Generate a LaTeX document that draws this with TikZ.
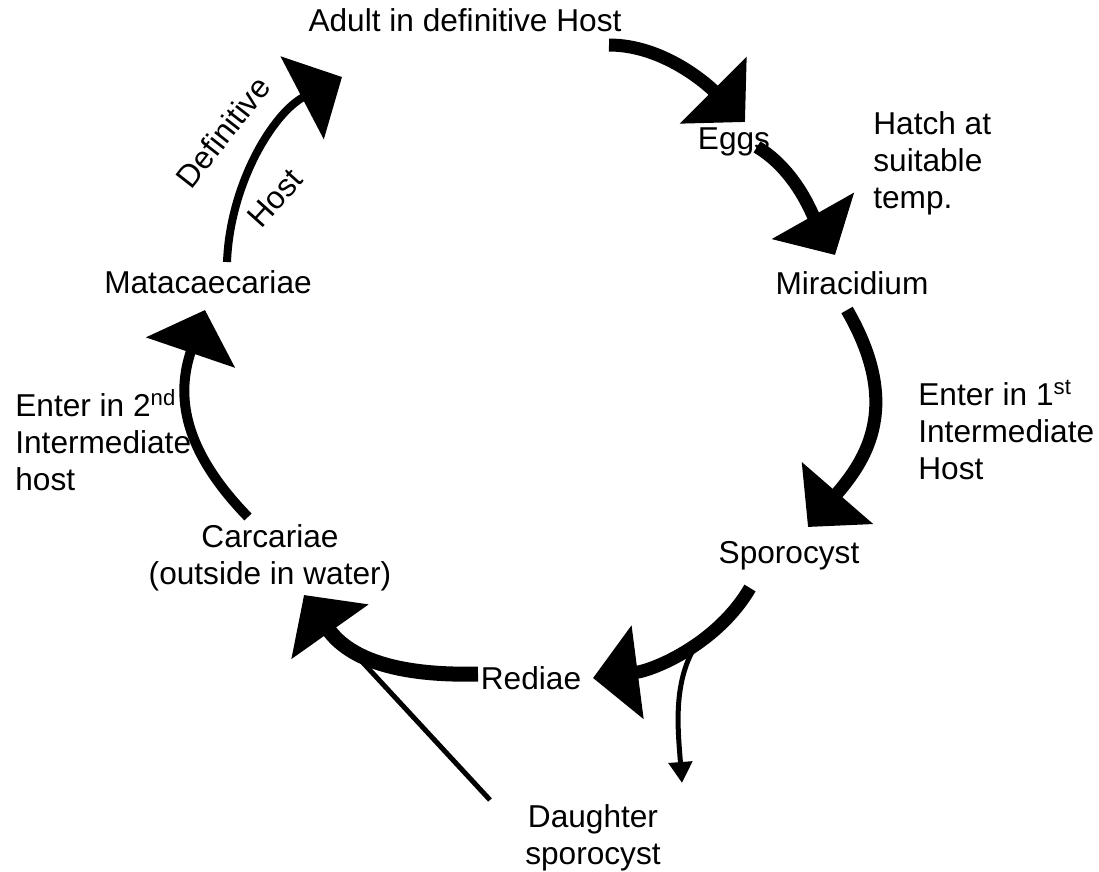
\documentclass[tikz,border=0pt]{standalone}
\usepackage{fontspec}
\setmainfont{Liberation Sans}
\usetikzlibrary{arrows.meta}
\tikzset{
  lbl/.style={inner sep=0pt,font=\fontsize{18}{21}\selectfont},
  cyc/.style={line width=#1,-{Triangle[length=0.9cm,width=1.84cm]}},
  branch/.style={line width=0.1cm,-{Triangle[length=0.42cm,width=0.46cm]}}
}

\begin{document}
\begin{tikzpicture}[x=0.02cm,y=-0.02cm]
  \useasboundingbox (0,0) rectangle (1099,872);

  \node[lbl] (adult) at (465,20) {Adult in definitive Host};
  \node[lbl] (eggs) at (734,142) {Eggs};
  \node[lbl,anchor=west,align=left] (hatch) at (873,163) {Hatch at\\suitable\\temp.};
  \node[lbl] (mira) at (852,283) {Miracidium};
  \node[lbl,anchor=west,align=left] (enterA) at (918,430) {Enter in 1\textsuperscript{st}\\Intermediate\\Host};
  \node[lbl] (sporo) at (789,556) {Sporocyst};
  \node[lbl] (rediae) at (531,678) {Rediae};
  \node[lbl,align=center] (daughter) at (593,838) {Daughter\\sporocyst};
  \node[lbl,align=center] (carc) at (270,558) {Carcariae\\(outside in water)};
  \node[lbl,anchor=west,align=left] (enterB) at (15,440) {Enter in 2\textsuperscript{nd}\\Intermediate\\host};
  \node[lbl] (mata) at (208,282) {Matacaecariae};
  \node[lbl,rotate=52] (defn) at (223,132) {Definitive};
  \node[lbl,rotate=48] (dhost) at (275,198) {Host};

  \coordinate (adultOut) at (609,45);   \coordinate (eggsIn) at (745,122);
  \coordinate (eggsOut) at (757,147);   \coordinate (miraIn) at (835,255);
  \coordinate (miraOut) at (847,310);   \coordinate (sporoIn) at (808,527);
  \coordinate (sporoOut) at (750,588);  \coordinate (rediaeIn) at (593,678);
  \coordinate (fork) at (698,642);      \coordinate (daughterIn) at (682,783);
  \coordinate (rediaeOut) at (478,674); \coordinate (carcIn) at (304,595);
  \coordinate (daughterOut) at (490,800); \coordinate (carcJoin) at (330,627);
  \coordinate (carcOut) at (248,517);   \coordinate (mataIn) at (205,310);
  \coordinate (mataOut) at (227,262);   \coordinate (adultIn) at (342,77);

  \draw[cyc=0.26cm] (adultOut) .. controls (663,45) and (707,84) .. (eggsIn);
  \draw[cyc=0.26cm] (eggsOut) .. controls (796,170) and (813,216) .. (miraIn);
  \draw[cyc=0.26cm] (miraOut) .. controls (902,405) and (867,459) .. (sporoIn);
  \draw[cyc=0.26cm] (sporoOut) .. controls (718,643) and (655,670) .. (rediaeIn);
  \draw[branch] (fork) .. controls (672,680) and (678,730) .. (daughterIn);
  \draw[cyc=0.3cm] (rediaeOut) .. controls (400,676) and (350,660) .. (carcIn);
  \draw[line width=0.1cm] (daughterOut) -- (carcJoin);
  \draw[cyc=0.2cm] (carcOut) .. controls (182,449) and (176,395) .. (mataIn);
  \draw[cyc=0.16cm] (mataOut) .. controls (230,184) and (273,113) .. (adultIn);
\end{tikzpicture}
\end{document}
